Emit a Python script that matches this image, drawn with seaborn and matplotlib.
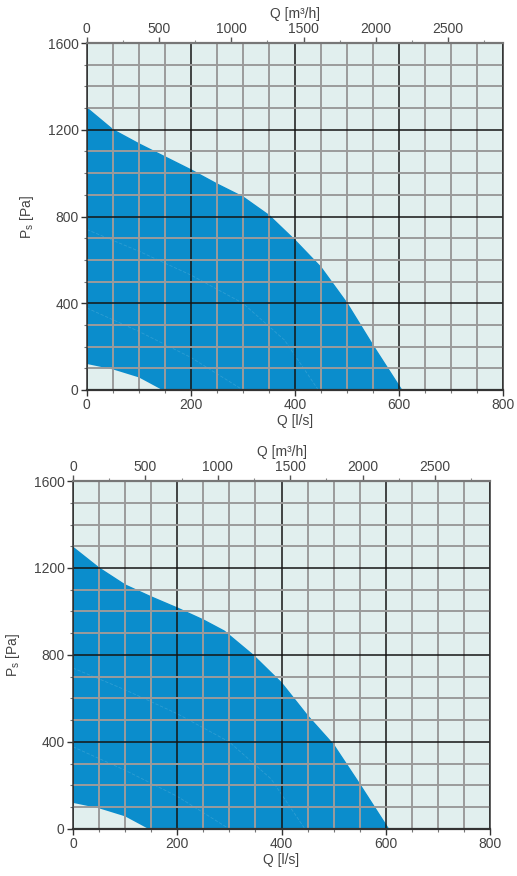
import numpy as np
import pandas as pd
import seaborn as sns
import matplotlib.pyplot as plt
from matplotlib.ticker import MultipleLocator

# fan curve, upper panel (Q in l/s, Ps in Pa)
q_top = [0, 50, 100, 150, 200, 250, 300, 350, 400, 450, 500, 550, 605]
ps_top = [1300, 1200, 1135, 1075, 1015, 950, 890, 805, 690, 565, 400, 205, 0]
# fan curve, lower panel
q_bot = [0, 50, 100, 150, 200, 250, 290, 345, 400, 450, 500, 550, 605]
ps_bot = [1295, 1200, 1122, 1067, 1016, 961, 910, 800, 671, 520, 386, 205, 0]
# minimum curve (lower edge of working area)
q_min = [0, 50, 100, 145]
ps_min = [120, 95, 58, 0]
# faint lower-speed curves inside the area
q_c1 = [0, 100, 200, 300, 380, 445]
ps_c1 = [740, 640, 530, 400, 230, 0]
q_c2 = [0, 100, 200, 300]
ps_c2 = [378, 270, 150, 0]

x_ticks = [0, 200, 400, 600, 800]
y_ticks = [0, 400, 800, 1200, 1600]
m3h_ticks = [0, 500, 1000, 1500, 2000, 2500]

BLUE = "#0b8dcc"
BG = "#e1efee"
TXT = "#444444"

sns.set_theme(style="white")
plt.rcParams['font.family'] = ['Liberation Sans', 'DejaVu Sans']

fig = plt.figure(figsize=(5.17, 8.76), dpi=100)
ax1 = fig.add_axes([0.168, 0.5548, 0.805, 0.3961])
ax2 = fig.add_axes([0.141, 0.0537, 0.807, 0.3972])


def draw_panel(ax, q_up, ps_up):
    df = pd.DataFrame({'Q': q_up, 'Ps': ps_up})
    ax.set_facecolor(BG)
    ax.fill(np.r_[q_up, q_min[::-1]], np.r_[ps_up, ps_min[::-1]],
            color=BLUE, lw=0, zorder=1)
    sns.lineplot(data=df, x='Q', y='Ps', ax=ax, color=BLUE, lw=1, zorder=1.1)
    for qq, pp in [(q_c1, ps_c1), (q_c2, ps_c2)]:
        ax.plot(qq, pp, color='white', lw=0.6, alpha=0.14, ls=(0, (4, 2)), zorder=1.2)

    ax.set_xlim(0, 800)
    ax.set_ylim(0, 1600)
    ax.set_xticks(x_ticks)
    ax.set_yticks(y_ticks)
    ax.xaxis.set_minor_locator(MultipleLocator(50))
    ax.yaxis.set_minor_locator(MultipleLocator(100))
    ax.set_axisbelow(False)
    ax.grid(which='minor', color='#9b9b9b', lw=1.4, zorder=2)
    ax.grid(which='major', color='#151515', lw=1.1, zorder=2.1)
    ax.tick_params(which='major', direction='out', length=4, width=1,
                   color='#333333', labelcolor=TXT, labelsize=10, pad=2,
                   bottom=True, left=True)
    ax.tick_params(which='minor', direction='out', length=2, width=0.8,
                   color='#777777', bottom=True, left=True)
    for s in ax.spines.values():
        s.set_color('#333333')
        s.set_linewidth(1.1)
        s.set_zorder(3)
    ax.spines['bottom'].set_linewidth(1.6)
    ax.spines['top'].set_color('#777777')
    ax.spines['top'].set_linewidth(1.6)

    ax.set_xlabel("Q [l/s]", fontsize=10, color=TXT, labelpad=1)
    ax.set_ylabel(r"P$_\mathregular{s}$ [Pa]", fontsize=10, color=TXT, labelpad=8)

    sec = ax.secondary_xaxis('top', functions=(lambda q: q * 3.6, lambda m: m / 3.6))
    sec.set_xticks(m3h_ticks)
    sec.xaxis.set_minor_locator(MultipleLocator(250))
    sec.tick_params(which='major', direction='out', length=4, width=1,
                    color='#555555', labelcolor=TXT, labelsize=10, pad=1)
    sec.tick_params(which='minor', direction='out', length=2, width=0.8, color='#888888')
    sec.spines['top'].set_visible(False)
    sec.set_xlabel("Q [m³/h]", fontsize=10, color=TXT, labelpad=3)


draw_panel(ax1, q_top, ps_top)
draw_panel(ax2, q_bot, ps_bot)

fig.savefig("out.png", dpi=100, facecolor='white')
